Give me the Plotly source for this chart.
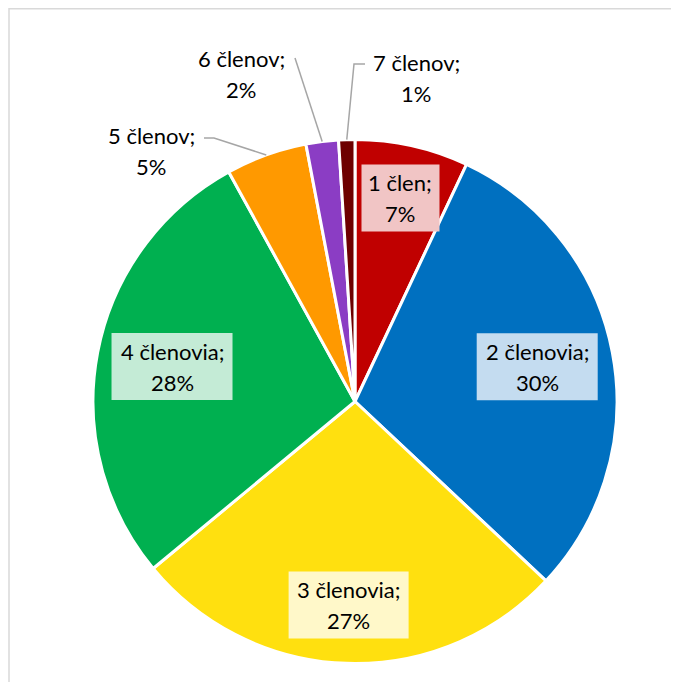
import math
import plotly.graph_objects as go

# ---- data ----
categories = ["1 člen", "2 členovia", "3 členovia", "4 členovia", "5 členov", "6 členov", "7 členov"]
shares = [7, 30, 27, 28, 5, 2, 1]

# ---- styles ----
slice_colors = ["#C00000", "#0070C0", "#FFE00F", "#00B050", "#FF9900", "#8B3DC4", "#6E0000"]
box_colors = ["#F1C5C5", "#C4DCF0", "#FFF8C9", "#C4EBD6", None, None, None]
inside_radius_frac = [0.796, 0.708, 0.777, 0.711, None, None, None]
box_width = [78, 121, 120, 121, None, None, None]
BOX_H = 67
LINE_GAP = 31
# outside labels: text centre (page px) and leader-line points near text (page px)
outside_text_px = {4: (151, 151), 5: (241, 74), 6: (416, 78)}
outside_leader_px = {4: [(214, 138), (204, 138)], 5: [(295, 58)], 6: [(354, 64), (365, 64)]}

OFF = 8  # page body margin
W, H = 679 - OFF, 682 - OFF
CX, CY, R = 355, 401.5, 262
FONT = "Lato"
FSIZE = 22
TXT = "#000000"


def px(x):
    return (x - OFF) / W


def py(y):
    return 1 - (y - OFF) / H


fig = go.Figure(go.Pie(
    labels=categories,
    values=shares,
    sort=False,
    direction="clockwise",
    rotation=0,
    marker=dict(colors=slice_colors, line=dict(color="white", width=3)),
    textinfo="none",
    hoverinfo="skip",
    showlegend=False,
    domain=dict(x=[px(CX - R), px(CX + R)], y=[py(CY + R), py(CY - R)]),
))

total = sum(shares)
cum = 0
annotations = []
shapes = []


def two_lines(cx, cy, l1, l2):
    for t, dy in ((l1, -LINE_GAP / 2), (l2, LINE_GAP / 2)):
        annotations.append(dict(
            x=px(cx), y=py(cy + dy), xref="paper", yref="paper",
            text=t, showarrow=False, xanchor="center", yanchor="middle",
            font=dict(family=FONT, size=FSIZE, color=TXT),
        ))


for i, (cat, v) in enumerate(zip(categories, shares)):
    mid = (cum + v / 2) / total * 2 * math.pi
    cum += v
    l1, l2 = f"{cat};", f"{round(v / total * 100)}%"
    if inside_radius_frac[i] is not None:
        d = inside_radius_frac[i] * R
        lx = CX + d * math.sin(mid)
        ly = CY - d * math.cos(mid)
        bw = box_width[i]
        shapes.append(dict(type="rect", xref="paper", yref="paper", layer="above",
                           x0=px(lx - bw / 2), x1=px(lx + bw / 2),
                           y0=py(ly + BOX_H / 2), y1=py(ly - BOX_H / 2),
                           fillcolor=box_colors[i], line=dict(width=0)))
        two_lines(lx, ly, l1, l2)
    else:
        tx, ty = outside_text_px[i]
        two_lines(tx, ty, l1, l2)
        ex = CX + R * math.sin(mid)
        ey = CY - R * math.cos(mid)
        pts = [(ex, ey)] + outside_leader_px[i]
        path = "M " + " L ".join(f"{px(a):.5f},{py(b):.5f}" for a, b in pts)
        shapes.append(dict(type="path", xref="paper", yref="paper", path=path,
                           line=dict(color="#A6A6A6", width=1.5)))

# chart frame
shapes.append(dict(type="rect", xref="paper", yref="paper",
                   x0=px(9), y0=py(720), x1=px(720), y1=py(8.7),
                   line=dict(color="#D9D9D9", width=1.5)))

fig.update_layout(
    width=W, height=H,
    margin=dict(l=0, r=0, t=0, b=0),
    paper_bgcolor="white",
    plot_bgcolor="white",
    annotations=annotations,
    shapes=shapes,
    font=dict(family=FONT),
)

fig.write_html("out.html")
